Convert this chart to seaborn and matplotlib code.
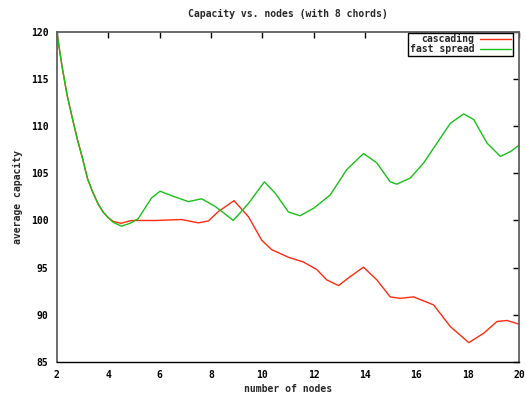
#!/usr/bin/env python3

from matplotlib import pyplot as plt
import numpy as np
import pandas as pd
import seaborn as sns

# values
start_x = [2.0, 2.2, 2.4, 2.6, 2.8, 3.0, 3.2, 3.4, 3.6, 3.8, 4.0]
start_y = [120.0, 116.4, 113.3, 110.9, 108.6, 106.6, 104.4, 103.0, 101.8,
           100.9, 100.3]

cascading_x = start_x + [4.2, 4.5, 4.91, 5.82, 6.86, 7.51, 7.9, 8.29, 8.9,
                         9.46, 9.98, 10.37, 11.02, 11.6, 12.12, 12.51, 12.97,
                         13.42, 13.94, 14.46, 14.98, 15.37, 15.89, 16.67,
                         17.32, 18.04, 18.62, 19.14, 19.53, 20.0]
cascading_y = start_y + [99.9, 99.7, 100.0, 100.0, 100.1, 99.75, 99.95,
                         100.95, 102.1, 100.4, 97.9, 96.9, 96.1, 95.6, 94.8,
                         93.7, 93.1, 94.05, 95.05, 93.7, 91.9, 91.75, 91.9,
                         91.05, 88.75, 87.05, 88.05, 89.3, 89.4, 89.0]

fast_x = start_x + [4.2, 4.52, 4.85, 5.17, 5.69, 6.02, 6.5, 7.12, 7.64, 8.16,
                    8.5, 8.87, 9.46, 10.08, 10.5, 11.02, 11.47, 12.0, 12.64,
                    13.29, 13.94, 14.46, 14.98, 15.24, 15.76, 16.28, 16.8,
                    17.32, 17.84, 18.23, 18.75, 19.27, 19.66, 20.0]
fast_y = start_y + [99.8, 99.4, 99.7, 100.2, 102.4, 103.1, 102.6, 102.0,
                    102.3, 101.5, 100.8, 100.0, 101.8, 104.1, 102.9, 100.9,
                    100.5, 101.3, 102.7, 105.4, 107.1, 106.1, 104.1, 103.85,
                    104.5, 106.1, 108.2, 110.3, 111.3, 110.7, 108.2, 106.8,
                    107.3, 108.0]

series = ['cascading', 'fast spread']

df = pd.DataFrame({
    'nodes': cascading_x + fast_x,
    'capacity': cascading_y + fast_y,
    'series': [series[0]] * len(cascading_x) + [series[1]] * len(fast_x),
})

sns.set_style('white')
plt.rcParams['font.family'] = ['DejaVu Sans Mono']
plt.rcParams['font.weight'] = 'bold'
plt.rcParams['font.size'] = 7

fig, ax = plt.subplots(figsize=(5.26, 3.98), dpi=100)
plt.subplots_adjust(left=0.108, right=0.987, top=0.920, bottom=0.0905)

sns.lineplot(data=df, x='nodes', y='capacity', hue='series', sort=True,
             estimator=None, palette=['#ff2a10', '#18c018'], linewidth=1.0,
             ax=ax)

ax.set_xlim(2, 20)
ax.set_ylim(85, 120)
ax.set_xticks(np.arange(2, 21, 2))
ax.set_yticks(np.arange(85, 121, 5))
ax.tick_params(direction='in', length=4, width=1, top=True, right=True,
               labelsize=7, pad=6, colors='black')
ax.set_xlabel('number of nodes', fontsize=7, fontweight='bold', labelpad=3)
ax.set_ylabel('average capacity', fontsize=7, fontweight='bold', labelpad=6)
ax.set_title('Capacity vs. nodes (with 8 chords)', fontsize=7,
             fontweight='bold', pad=11)

for name, sp in ax.spines.items():
    sp.set_visible(True)
    sp.set_linewidth(1.3)
    sp.set_color('#606060')
ax.spines['bottom'].set_color('black')
ax.spines['bottom'].set_linewidth(1.0)

leg = ax.legend(loc='upper right', bbox_to_anchor=(0.988, 1.0),
                markerfirst=False, frameon=True, fancybox=False,
                framealpha=1, edgecolor='black', fontsize=7,
                handlelength=3.2, handletextpad=0.6, borderpad=0.15,
                labelspacing=0.0, borderaxespad=0.1)
leg.get_frame().set_linewidth(1.0)

plt.savefig('out.png', dpi=100)
